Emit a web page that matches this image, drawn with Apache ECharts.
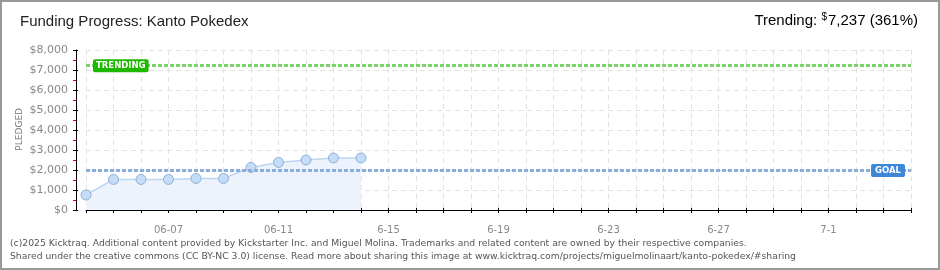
<!DOCTYPE html>
<html><head><meta charset="utf-8">
<script src="https://cdn.jsdelivr.net/npm/echarts@6/dist/echarts.min.js"></script>
<style>html,body{margin:0;padding:0;background:#fff}#c{width:940px;height:270px}</style>
</head><body><div id="c"></div>
<script>
const categories = ['06-04','06-05','06-06','06-07','06-08','06-09','06-10','06-11','06-12','06-13','06-14','06-15','06-16','06-17','06-18','06-19','06-20','06-21','06-22','06-23','06-24','06-25','06-26','06-27','06-28','06-29','06-30','07-01','07-02','07-03','07-04'];
const pledged = [750, 1530, 1530, 1530, 1580, 1580, 2130, 2380, 2500, 2600, 2600];
const labelDates = ['06-07','06-11','06-15','06-19','06-23','06-27','07-01'];
const labelTexts = ['06-07','06-11','6-15','6-19','6-23','6-27','7-1'];
const yTicks = [0,1000,2000,3000,4000,5000,6000,7000,8000];
const goal = 2000;
const trending = 7237;
const trendingPct = 361;

const chart = echarts.init(document.getElementById('c'), null, {renderer:'canvas'});
const lblFont = 'DejaVu Sans';
const titleFont = 'Liberation Sans';
const fmtMoney = v => '$' + v.toLocaleString('en-US');
chart.setOption({
  animation:false,
  grid:{left:86, right:29, top:50, bottom:60},
  xAxis:[{
    type:'category', data:categories, boundaryGap:false, offset:10,
    axisLine:{lineStyle:{color:'#000', width:1}},
    axisTick:{show:true, interval:0, length:3, lineStyle:{color:'#000'}},
    axisLabel:{interval:(i,v)=>labelDates.includes(v), formatter:v=>labelTexts[labelDates.indexOf(v)]||'', color:'#888', fontFamily:lblFont, fontSize:10, margin:5},
    splitLine:{show:true, interval:0, lineStyle:{color:'#e2e2e2', type:[5,4]}}
  },{
    type:'category', data:categories, boundaryGap:false, offset:10, position:'bottom',
    axisLine:{show:false}, axisLabel:{show:false}, splitLine:{show:false},
    axisTick:{show:true, interval:0, inside:true, length:2, lineStyle:{color:'#000'}}
  }],
  yAxis:[{
    type:'value', min:yTicks[0], max:yTicks[yTicks.length-1], interval:1000, offset:10,
    axisLine:{show:true, lineStyle:{color:'#000'}},
    axisTick:{show:true, length:3, lineStyle:{color:'#000'}},
    minorTick:{show:true, splitNumber:2, length:3, lineStyle:{color:'#e00'}},
    axisLabel:{formatter:fmtMoney, color:'#888', fontFamily:lblFont, fontSize:11, margin:8},
    splitLine:{show:true, lineStyle:{color:'#e2e2e2', type:[5,4]}}
  },{
    type:'value', min:yTicks[0], max:yTicks[yTicks.length-1], interval:1000, offset:10, position:'left',
    axisLine:{show:false}, axisLabel:{show:false}, splitLine:{show:false},
    axisTick:{show:true, inside:true, length:2, lineStyle:{color:'#000'}}
  }],
  series:[{
    type:'line', data:pledged, xAxisIndex:0, yAxisIndex:0,
    symbol:'circle', symbolSize:10,
    itemStyle:{color:'#c4dcf7', borderColor:'#8eafd6', borderWidth:1},
    lineStyle:{color:'#bcd5f1', width:1.5},
    areaStyle:{color:'#ecf3fc', opacity:1},
    z:3,
    markLine:{
      silent:true, symbol:'none', animation:false,
      data:[
        {yAxis:trending, lineStyle:{color:'#7ad46a', width:3, type:[4,2]},
         label:{show:true, position:'insideStartTop', formatter:'TRENDING', color:'#fff', fontFamily:lblFont, fontWeight:'bold', fontSize:8.5,
           backgroundColor:'#1fb800', padding:[2,3,2,3], borderRadius:2, distance:[7,-7]}},
        {yAxis:goal, lineStyle:{color:'#8aaedc', width:3, type:[4,2]},
         label:{show:true, position:'insideEndTop', formatter:'GOAL', color:'#fff', fontFamily:lblFont, fontWeight:'bold', fontSize:8.5,
           backgroundColor:'#3d86d8', padding:[2,4,2,4], borderRadius:2, distance:[6,-7]}}
      ]
    }
  }],
  graphic:[
    {type:'rect', shape:{x:1, y:1, width:938, height:268}, style:{fill:'none', stroke:'#999', lineWidth:2}, silent:true},
    {type:'text', left:20, top:14, style:{text:'Funding Progress: Kanto Pokedex', font:'15px "Liberation Sans"', fill:'#222'}},
    {type:'text', right:22, top:12, style:{text:'{a|Trending: }{s|$}{a|' + trending.toLocaleString('en-US') + ' (' + trendingPct + '%)}',
      rich:{a:{fontFamily:titleFont, fontSize:15, color:'#222', verticalAlign:'bottom'}, s:{fontFamily:titleFont, fontSize:10, color:'#222', verticalAlign:'top', padding:[0,1,6,0]}}}},
    {type:'text', left:15, top:108, rotation:Math.PI/2, style:{text:'PLEDGED', font:'9px "DejaVu Sans"', fill:'#777'}},
    {type:'text', left:10, top:237, style:{text:'(c)2025 Kicktraq. Additional content provided by Kickstarter Inc. and Miguel Molina. Trademarks and related content are owned by their respective companies.\nShared under the creative commons (CC BY-NC 3.0) license. Read more about sharing this image at www.kicktraq.com/projects/miguelmolinaart/kanto-pokedex/#sharing',
      font:'9.25px "DejaVu Sans"', fill:'#555', lineHeight:13}}
  ]
});
</script></body></html>
